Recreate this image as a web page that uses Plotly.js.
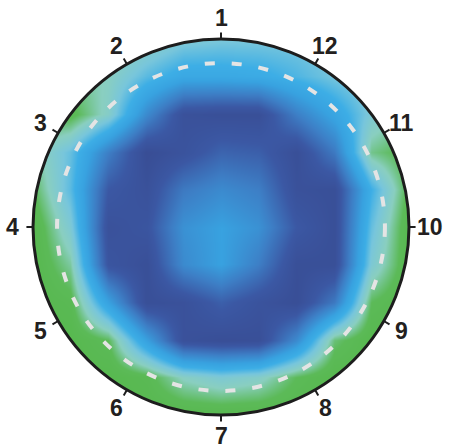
<!DOCTYPE html>
<html>
<head>
<meta charset="utf-8">
<script src="https://cdn.plot.ly/plotly-3.0.1.min.js"></script>
<style>html,body{margin:0;padding:0;background:#fff;}#chart{width:452px;height:448px;}</style>
</head>
<body>
<div id="chart"></div>
<script>
// Grid coordinates (unit circle = plot boundary)
var gridX = [-1, -0.8, -0.6, -0.4, -0.2, 0, 0.2, 0.4, 0.6, 0.8, 1];
var gridY = [-1, -0.8, -0.6, -0.4, -0.2, 0, 0.2, 0.4, 0.6, 0.8, 1];

// Field values (rows from bottom to top)
var rowYm10 = [0.92, 0.92, 0.92, 0.92, 0.92, 0.92, 0.92, 0.92, 0.92, 0.92, 0.92];
var rowYm08 = [0.92, 0.92, 0.92, 0.88, 0.74, 0.68, 0.72, 0.85, 0.92, 0.92, 0.92];
var rowYm06 = [0.92, 0.92, 0.85, 0.45, 0.08, 0.05, 0.06, 0.35, 0.82, 0.92, 0.92];
var rowYm04 = [0.92, 0.88, 0.45, 0.06, 0.08, 0.18, 0.10, 0.05, 0.28, 0.85, 0.92];
var rowYm02 = [0.92, 0.78, 0.12, 0.06, 0.35, 0.45, 0.30, 0.06, 0.06, 0.68, 0.92];
var rowY00  = [0.92, 0.68, 0.08, 0.12, 0.38, 0.45, 0.38, 0.15, 0.06, 0.62, 0.92];
var rowYp02 = [0.85, 0.60, 0.15, 0.08, 0.28, 0.35, 0.30, 0.08, 0.06, 0.55, 0.88];
var rowYp04 = [0.78, 0.62, 0.30, 0.04, 0.10, 0.20, 0.18, 0.06, 0.28, 0.80, 0.88];
var rowYp06 = [0.85, 0.88, 0.72, 0.35, 0.08, 0.06, 0.06, 0.30, 0.48, 0.68, 0.78];
var rowYp08 = [0.80, 0.80, 0.74, 0.60, 0.50, 0.50, 0.52, 0.58, 0.65, 0.70, 0.75];
var rowYp10 = [0.80, 0.80, 0.80, 0.75, 0.68, 0.66, 0.66, 0.66, 0.68, 0.75, 0.80];

var fieldZ = [rowYm10, rowYm08, rowYm06, rowYm04, rowYm02, rowY00, rowYp02, rowYp04, rowYp06, rowYp08, rowYp10];

// Angular tick labels (counter-clockwise from top)
var tickLabels = ['1','2','3','4','5','6','7','8','9','10','11','12'];
var tickStartDeg = 90;
var tickStepDeg = 30;

// Dashed reference contour radius
var dashedRadius = 0.872;

var colorscale = [
  [0.00, '#384a90'],
  [0.15, '#3b58a4'],
  [0.30, '#3d7fc6'],
  [0.45, '#38a2e0'],
  [0.55, '#3daee6'],
  [0.65, '#78c6dc'],
  [0.75, '#8acfc0'],
  [0.85, '#5cba58'],
  [1.00, '#52b746']
];

var W = 452, H = 448, cx = 221, cy = 227, R = 188;
var xr = [-cx / R, (W - cx) / R];
var yr = [-(H - cy) / R, cy / R];

// mask outside the circle
var maskPath = 'M' + (xr[0]-1) + ',' + (yr[0]-1) + ' L' + (xr[1]+1) + ',' + (yr[0]-1) +
  ' L' + (xr[1]+1) + ',' + (yr[1]+1) + ' L' + (xr[0]-1) + ',' + (yr[1]+1) + ' Z';
var circ = [];
for (var i = 0; i <= 240; i++) {
  var a = 2 * Math.PI * i / 240;
  circ.push((i === 0 ? 'M' : 'L') + Math.cos(a).toFixed(5) + ',' + Math.sin(a).toFixed(5));
}
maskPath += ' ' + circ.join(' ') + ' Z';

var shapes = [
  {type: 'path', path: maskPath, fillcolor: '#ffffff', fillrule: 'evenodd', line: {width: 0}, layer: 'above'},
  {type: 'circle', xref: 'x', yref: 'y', x0: -dashedRadius, x1: dashedRadius, y0: -dashedRadius, y1: dashedRadius,
   line: {color: '#e4e4e4', width: 4, dash: '10px,17px'}},
  {type: 'circle', xref: 'x', yref: 'y', x0: -1, x1: 1, y0: -1, y1: 1, line: {color: '#1d1d1d', width: 3}}
];
var annotations = [];
tickLabels.forEach(function (lab, k) {
  var ang = (tickStartDeg + k * tickStepDeg) * Math.PI / 180;
  var c = Math.cos(ang), s = Math.sin(ang);
  shapes.push({type: 'line', x0: c * 1.0, y0: s * 1.0, x1: c * 1.035, y1: s * 1.035,
    line: {color: '#1d1d1d', width: 2}});
  annotations.push({x: c * 1.11, y: s * 1.11, text: lab, showarrow: false,
    xanchor: 'center', yanchor: 'middle', borderpad: 0,
    font: {family: 'Liberation Sans, Arial, sans-serif', size: 23, color: '#231f20', weight: 'bold'}});
});

var trace = {
  type: 'heatmap', x: gridX, y: gridY, z: fieldZ,
  colorscale: colorscale, zmin: 0, zmax: 1, zsmooth: 'best',
  showscale: false, hoverinfo: 'skip'
};

var layout = {
  width: W, height: H,
  margin: {l: 0, r: 0, t: 0, b: 0},
  paper_bgcolor: '#ffffff', plot_bgcolor: '#ffffff',
  xaxis: {range: xr, visible: false, fixedrange: true},
  yaxis: {range: yr, visible: false, fixedrange: true},
  shapes: shapes, annotations: annotations, showlegend: false
};

Plotly.newPlot('chart', [trace], layout, {displayModeBar: false, staticPlot: true});
</script>
</body>
</html>
